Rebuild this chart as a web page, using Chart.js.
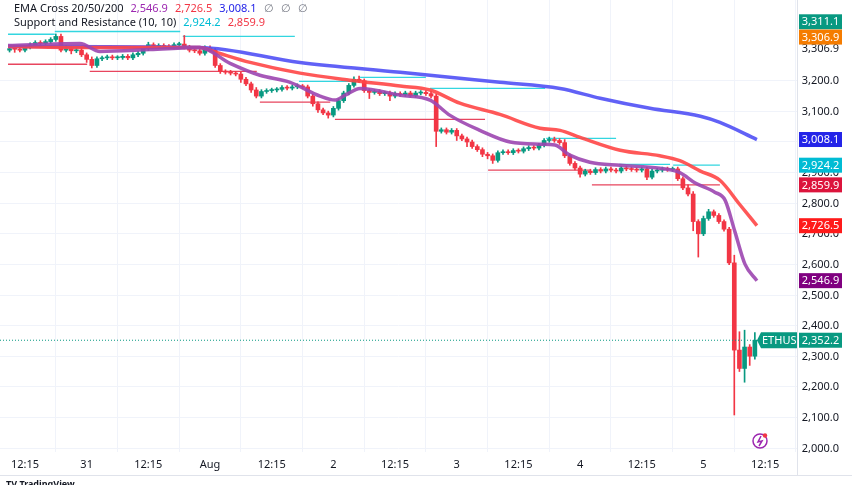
<!DOCTYPE html>
<html><head><meta charset="utf-8">
<script src="https://cdn.jsdelivr.net/npm/chart.js@4.4.1/dist/chart.umd.min.js"></script>
<style>html,body{margin:0;padding:0;background:#fff}#w{width:852px;height:485px}</style>
</head><body><div id="w"><canvas id="c"></canvas></div>
<script>
// hourly candles, hour 0 = Jul 30 12:15 ; candle i sits at hour i-3
const closes=[3305,3303,3300,3310,3318,3325,3322,3328,3335,3345,
3300,3305,3298,3300,3285,3270,3250,3272,3275,3278,
3275,3276,3280,3275,3285,3290,3305,3318,3312,3315,
3312,3310,3318,3320,3310,3300,3298,3290,3308,3300,
3250,3230,3228,3225,3222,3205,3190,3170,3150,3165,
3168,3170,3172,3178,3176,3180,3182,3180,3150,3125,
3105,3095,3088,3110,3135,3160,3185,3205,3200,3168,
3162,3165,3158,3160,3150,3158,3155,3160,3152,3160,
3162,3158,3150,3035,3040,3032,3038,3020,3010,3000,
2985,2975,2960,2955,2940,2965,2968,2965,2972,2970,
2978,2982,2980,2990,3005,3008,3005,2998,2955,2930,
2915,2895,2905,2900,2910,2905,2912,2908,2905,2915,
2912,2910,2908,2912,2885,2905,2908,2912,2910,2912,
2880,2850,2830,2740,2700,2750,2772,2760,2740,2715,
2605,2320,2260,2330,2300,2352];
const firstOpen=3300;
const wickUp=[6,6,8,6,6,6,6,6,6,8, 8,10,6,6,8,6,8,6,6,6, 6,6,6,6,6,6,6,8,6,6, 6,6,6,6,28,6,6,6,6,6,
6,6,6,6,6,6,6,6,8,6, 6,6,6,6,6,6,8,6,6,6, 6,6,6,6,6,6,6,8,10,6, 6,6,6,6,6,6,6,6,6,6,
6,6,8,6,6,6,6,6,6,6, 6,6,6,6,6,6,6,6,6,6, 6,6,6,6,6,8,8,6,10,6, 6,6,6,6,6,6,6,6,6,6,
6,6,6,6,6,6,6,6,6,6, 6,6,10,8,6,8,8,6,6,6, 6,25,60,55,8,25];
const wickDn=[6,10,6,6,6,6,6,6,6,6, 6,6,10,6,6,10,8,6,6,6, 6,6,6,6,6,6,6,6,6,6, 6,6,6,6,6,6,6,6,6,6,
6,6,6,6,6,10,6,8,6,6, 6,6,6,6,6,6,6,6,6,8, 8,6,10,6,6,6,6,6,6,6, 20,6,6,6,15,6,6,6,6,6,
6,6,6,50,6,6,6,15,6,15, 6,6,8,10,10,6,6,6,6,6, 6,6,6,6,6,6,6,6,6,6, 6,10,6,6,6,6,6,6,6,6,
6,6,6,6,8,6,6,6,6,6, 6,6,6,30,76,6,6,6,6,6, 6,212,10,45,30,10];
// EMA lines: [hour, price]
const ema200=[[-3.3,3312],[34,3309],[53.5,3260],[73,3228],[92.4,3195],[104.1,3175],[111.9,3143],[121.6,3110],[131.4,3084],[135.2,3064],[142.4,3008]];
const ema50=[[-3.3,3312],[14.6,3309],[34,3309],[37,3294],[43.8,3260],[53.5,3225],[63.2,3202],[73,3183],[78.8,3170],[84.6,3127],[92.4,3090],[100.2,3045],[104.1,3038],[108,3015],[115.8,2973],[123.5,2955],[127.4,2939],[131.4,2905],[135.2,2875],[139.1,2795],[142.4,2726.5]];
const ema20=[[-3.3,3315],[10.7,3322],[14.6,3296],[24.3,3302],[34,3309],[39.9,3257],[45.7,3218],[51.6,3195],[57.4,3150],[60.3,3137],[62.3,3153],[65.2,3175],[73,3153],[78.8,3137],[82.7,3087],[88.5,3038],[94.4,3000],[100.2,2993],[103.1,2990],[106,2957],[109.9,2934],[115.8,2924],[123.5,2914],[127.4,2900],[130.4,2866],[134.2,2836],[136.2,2810],[138.1,2708],[140.1,2600],[142.4,2546.9]];
// support / resistance segments: [fromHour, toHour, level]
const resistance=[[-3.3,5.8,3352],[5.8,30.2,3361],[30.7,52.5,3345],[53.3,65.2,3198],[65.2,78,3211],[78.8,101.2,3175],[101.4,115,3012],[115.6,125.5,2927],[126.1,135.2,2924.2]];
const support=[[-3.3,12.1,3254],[12.6,45.1,3231],[45.7,59.4,3130],[60.3,89.5,3074],[90.1,109.9,2908],[110.3,135.2,2859.9]];
const xTicks=[0,12,24,36,48,60,72,84,96,108,120,132,144];
const xLabels=["12:15","31","12:15","Aug","12:15","2","12:15","3","12:15","4","12:15","5","12:15"];
const yTicks=[2000,2100,2200,2300,2400,2500,2600,2700,2800,2900,3000,3100,3200,3306.9];
const tags=[[3311.1,'#089981',-25],[3306.9,'#f57c00',-11],[3008.1,'#2424e8',0],[2924.2,'#00bcd4',0],[2859.9,'#dc143c',0],[2726.5,'#ff1a1a',0],[2546.9,'#800080',0],[2352.2,'#089981',0]];
const lastPrice=2352.2;

const GREEN='#089981',RED='#f23645';
const bodies=[],wicks=[],cols=[];
closes.forEach((c,i)=>{const o=i?closes[i-1]:firstOpen;const h=i-3;
 bodies.push({x:h,y:[o,c]});
 wicks.push({x:h,y:[Math.min(o,c)-wickDn[i],Math.max(o,c)+wickUp[i]]});
 cols.push(c>=o?GREEN:RED);});
const pts=a=>a.map(p=>({x:p[0],y:p[1]}));
const segs=a=>{const r=[];a.forEach(s=>{r.push({x:s[0],y:s[2]},{x:s[1],y:s[2]},{x:s[1],y:null});});return r;};
const fmt=v=>v.toLocaleString('en-US',{minimumFractionDigits:1,maximumFractionDigits:1});

const deco={id:'deco',afterDraw(ch){const g=ch.ctx,y=ch.scales.y,a=ch.chartArea;g.save();
 g.font='11px "Noto Sans", sans-serif';g.textBaseline='middle';
 // y tick labels
 g.fillStyle='#131722';g.textAlign='right';
 yTicks.forEach(v=>g.fillText(fmt(v),839,y.getPixelForValue(v)+0.5));
 // last price dotted line
 const yp=y.getPixelForValue(lastPrice);g.strokeStyle=GREEN;g.setLineDash([1,2]);g.lineWidth=1;
 g.beginPath();g.moveTo(a.left,yp);g.lineTo(a.right,yp);g.stroke();g.setLineDash([]);
 // ETHUSD tag
 g.fillStyle=GREEN;g.beginPath();g.moveTo(757,yp);g.lineTo(761,yp-8);g.lineTo(797,yp-8);g.lineTo(797,yp+8);g.lineTo(761,yp+8);g.closePath();g.fill();
 g.fillStyle='#fff';g.textAlign='left';g.fillText('ETHUSD',762,yp+0.5);
 tags.forEach(t=>{const ty=y.getPixelForValue(t[0])+t[2];g.fillStyle=t[1];g.fillRect(799,ty-7.5,43,15);
  g.fillStyle='#fff';g.textAlign='center';g.fillText(fmt(t[0]),820.5,ty+0.5);});
 // legend
 g.textAlign='left';
 const line=(yy,parts)=>{let x=14;parts.forEach(p=>{g.fillStyle=p[1];g.fillText(p[0],x,yy);x+=g.measureText(p[0]).width+7;});};
 line(9,[['EMA Cross 20/50/200','#131722'],['2,546.9','#9c27b0'],['2,726.5','#f23645'],['3,008.1','#2424e8'],['∅','#787b86'],['∅','#787b86'],['∅','#787b86']]);
 line(23,[['Support and Resistance (10, 10)','#131722'],['2,924.2','#00bcd4'],['2,859.9','#f23645']]);
 // icon
 g.strokeStyle='#9c27b0';g.lineWidth=1.5;g.beginPath();g.arc(760,441,7,0,Math.PI*2);g.stroke();
 g.beginPath();g.moveTo(761,436);g.lineTo(758,442);g.lineTo(762,441);g.lineTo(759,446);g.stroke();
 g.fillStyle='#f23645';g.beginPath();g.arc(765,435.5,2.2,0,Math.PI*2);g.fill();
 g.strokeStyle='#e0e3eb';g.lineWidth=1;g.beginPath();g.moveTo(0,475.5);g.lineTo(852,475.5);g.moveTo(a.right+0.5,0);g.lineTo(a.right+0.5,475);g.stroke();
 g.font='bold 9px "Noto Sans", sans-serif';g.fillStyle='#131722';g.fillText('TV TradingView',6,484);
 g.restore();}};

new Chart(document.getElementById('c'),{
 data:{datasets:[
  {type:'line',data:pts(ema20),borderColor:'rgba(156,70,176,0.9)',borderWidth:3.5,pointRadius:0,cubicInterpolationMode:'monotone',order:1},
  {type:'line',data:pts(ema50),borderColor:'rgba(255,70,70,0.9)',borderWidth:3.5,pointRadius:0,cubicInterpolationMode:'monotone',order:2},
  {type:'line',data:pts(ema200),borderColor:'rgba(80,80,245,0.9)',borderWidth:3.5,pointRadius:0,cubicInterpolationMode:'monotone',order:3},
  {type:'bar',data:bodies,backgroundColor:cols,barThickness:4,minBarLength:1,grouped:false,order:4},
  {type:'bar',data:wicks,backgroundColor:cols,barThickness:1,grouped:false,order:5},
  {type:'line',data:segs(resistance),borderColor:'#33d6e0',borderWidth:1.3,pointRadius:0,spanGaps:false,order:6},
  {type:'line',data:segs(support),borderColor:'#e8455e',borderWidth:1.3,pointRadius:0,spanGaps:false,order:7}
 ]},
 options:{responsive:true,maintainAspectRatio:false,animation:false,
  layout:{padding:{top:0,bottom:10,left:0,right:0}},
  plugins:{legend:{display:false},tooltip:{enabled:false}},
  scales:{
   x:{type:'linear',min:-4.86,max:150.2,offset:false,
    afterBuildTicks:s=>{s.ticks=xTicks.map(v=>({value:v}));},
    afterFit:s=>{s.height=23;},
    grid:{color:'#f0f3fa',drawTicks:false},border:{display:false},
    ticks:{callback:(v)=>xLabels[xTicks.indexOf(v)],autoSkip:false,maxRotation:0,padding:6,color:'#131722',font:{size:11,family:'Noto Sans'}}},
   y:{position:'right',min:1987,max:3464,
    afterBuildTicks:s=>{s.ticks=yTicks.map(v=>({value:v}));},
    afterFit:s=>{s.width=55;},
    grid:{color:(c)=>c.tick&&c.tick.value===3306.9?'rgba(0,0,0,0)':'#f0f3fa',drawTicks:false},border:{display:false},
    ticks:{display:false}}
  }},
 plugins:[deco]});
</script></body></html>
